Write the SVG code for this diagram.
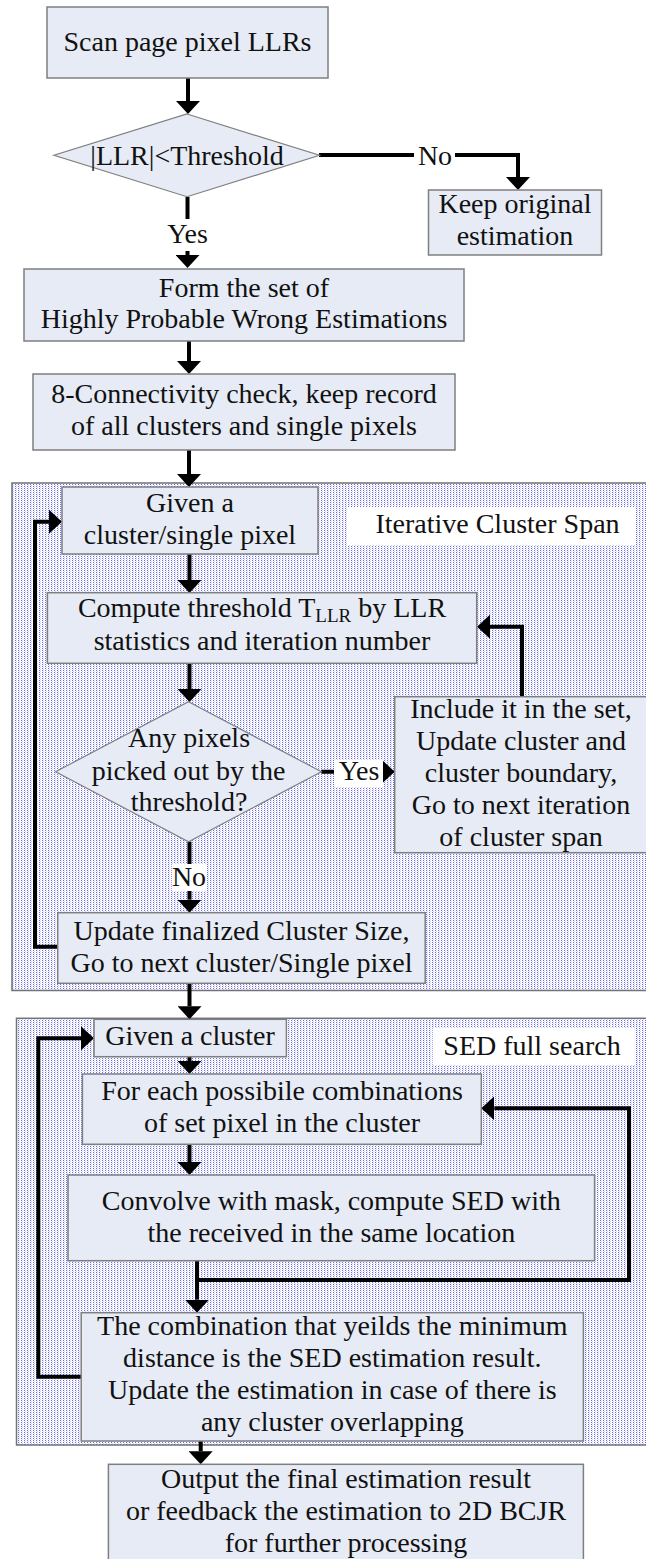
<svg xmlns="http://www.w3.org/2000/svg" width="646" height="1559" viewBox="0 0 646 1559">
  <defs>
    <style>
      .box { fill: #e6ebf5; stroke: #7f7f7f; stroke-width: 1.5; }
      .dia { fill: #e6ebf5; stroke: #7f7f7f; stroke-width: 1.2; }
      .region { fill: url(#dots); stroke: #737373; stroke-width: 1.5; }
      .tag { fill: #ffffff; stroke: none; }
      text { font-family: "Liberation Serif", "Times New Roman", serif; font-size: 28px; fill: #111111; text-anchor: middle; }
      .link { fill: none; stroke: #000000; stroke-width: 4; stroke-linejoin: miter; }
      .arrow { marker-end: url(#head); }
    </style>
    <pattern id="dots" width="3" height="2" patternUnits="userSpaceOnUse">
      <rect width="3" height="2" fill="#ffffff"/>
      <rect x="0" y="0" width="1" height="1" fill="#6a6aef"/>
      <rect x="1" y="1" width="1" height="1" fill="#d0d0f8"/>
    </pattern>
    <marker id="head" viewBox="0 -12 13 24" markerWidth="13" markerHeight="24" refX="0" refY="0" markerUnits="userSpaceOnUse" orient="auto">
      <path d="M0,-12 L13,0 L0,12 Z" fill="#000000"/>
    </marker>
  </defs>

  <rect width="646" height="1559" fill="#ffffff"/>

  <!-- shaded stages -->
  <g id="stage-span">
    <rect class="region" x="12" y="483" width="660" height="507.5"/>
    <rect class="tag" x="348" y="507" width="287" height="38"/>
    <text x="497.5" y="533">Iterative Cluster Span</text>
  </g>
  <g id="stage-sed">
    <rect class="region" x="16.5" y="1018.3" width="660" height="426.7"/>
    <rect class="tag" x="432.6" y="1028" width="202" height="37"/>
    <text x="532" y="1055">SED full search</text>
  </g>

  <!-- connectors -->
  <g id="connectors">
    <path class="link arrow" d="M188,78 V101"/>
    <path class="link arrow" d="M319,155 H518 V177"/>
    <path class="link arrow" d="M187.5,197 V255"/>
    <path class="link arrow" d="M189,341 V361"/>
    <path class="link arrow" d="M189,450 V474"/>
    <path class="link arrow" d="M189.5,554 V580"/>
    <path class="link arrow" d="M189.5,663 V689"/>
    <path class="link arrow" d="M321.4,771.7 H381.7"/>
    <path class="link arrow" d="M522,696.7 V626.7 H490"/>
    <path class="link arrow" d="M189.5,841.7 V899.7"/>
    <path class="link arrow" d="M57.7,946.7 H35 V521.7 H49"/>
    <path class="link arrow" d="M189.5,983.3 V1006.3"/>
    <path class="link arrow" d="M189.5,1056.7 V1061"/>
    <path class="link arrow" d="M189.5,1144.3 V1162"/>
    <path class="link arrow" d="M197,1260.7 V1280 H629 V1108.3 H494.3"/>
    <path class="link arrow" d="M197,1278 V1299.7"/>
    <path class="link arrow" d="M81.2,1376.7 H38.3 V1038.3 H81"/>
    <path class="link arrow" d="M200.7,1441 V1451.3"/>
  </g>

  <!-- connector labels -->
  <g id="labels">
    <rect class="tag" x="414" y="141" width="41" height="30"/>
    <text x="435" y="165">No</text>
    <rect class="tag" x="166" y="219" width="44" height="32"/>
    <text x="187.5" y="243">Yes</text>
    <rect class="tag" x="334" y="760" width="49" height="27"/>
    <text x="359" y="780">Yes</text>
    <rect class="tag" x="171.7" y="864" width="35" height="27"/>
    <text x="189" y="886">No</text>
  </g>

  <!-- nodes -->
  <g id="scan">
    <rect class="box" x="47" y="7" width="281" height="71"/>
    <text x="187.5" y="51">Scan page pixel LLRs</text>
  </g>
  <g id="check-threshold">
    <polygon class="dia" points="187,114 319.5,155.3 187,196.7 54,155.3"/>
    <text x="187" y="165">|LLR|&lt;Threshold</text>
  </g>
  <g id="keep-original">
    <rect class="box" x="428.5" y="190" width="173" height="65"/>
    <text x="515" y="213">Keep original</text>
    <text x="515" y="245">estimation</text>
  </g>
  <g id="form-set">
    <rect class="box" x="24" y="269" width="440" height="72"/>
    <text x="244" y="297">Form the set of</text>
    <text x="244" y="328">Highly Probable Wrong Estimations</text>
  </g>
  <g id="connectivity">
    <rect class="box" x="33" y="374" width="422" height="76"/>
    <text x="244" y="403">8-Connectivity check, keep record</text>
    <text x="244" y="435">of all clusters and single pixels</text>
  </g>
  <g id="given-cluster-pixel">
    <rect class="box" x="62" y="487" width="256" height="67"/>
    <text x="190" y="512">Given a</text>
    <text x="190" y="544">cluster/single pixel</text>
  </g>
  <g id="compute-threshold">
    <rect class="box" x="47.4" y="592.7" width="429.3" height="70.6"/>
    <text x="262" y="617">Compute threshold T<tspan font-size="19" dy="5">LLR</tspan><tspan dy="-5"> by LLR</tspan></text>
    <text x="262" y="650">statistics and iteration number</text>
  </g>
  <g id="any-pixels">
    <polygon class="dia" points="188.5,701.7 321.4,771.7 188.5,841.7 55.6,771.7"/>
    <text x="189" y="747">Any pixels</text>
    <text x="188.5" y="780">picked out by the</text>
    <text x="189" y="811">threshold?</text>
  </g>
  <g id="include-set">
    <rect class="box" x="394.7" y="696.7" width="270" height="156"/>
    <text x="521" y="718">Include it in the set,</text>
    <text x="521" y="750">Update cluster and</text>
    <text x="521" y="782">cluster boundary,</text>
    <text x="521" y="814">Go to next iteration</text>
    <text x="521" y="846">of cluster span</text>
  </g>
  <g id="update-size">
    <rect class="box" x="57.7" y="912.7" width="367.5" height="70.6"/>
    <text x="241.5" y="940">Update finalized Cluster Size,</text>
    <text x="241.5" y="972">Go to next cluster/Single pixel</text>
  </g>
  <g id="given-cluster">
    <rect class="box" x="94" y="1019.3" width="192.4" height="37.4"/>
    <text x="190" y="1045">Given a cluster</text>
  </g>
  <g id="each-combination">
    <rect class="box" x="82.4" y="1074" width="398.9" height="70.3"/>
    <text x="282" y="1100">For each possibile combinations</text>
    <text x="282" y="1132">of set pixel in the cluster</text>
  </g>
  <g id="convolve">
    <rect class="box" x="68" y="1175" width="526.6" height="85.7"/>
    <text x="331.3" y="1210">Convolve with mask, compute SED with</text>
    <text x="331.3" y="1242">the received in the same location</text>
  </g>
  <g id="minimum-distance">
    <rect class="box" x="81.2" y="1312.7" width="502.2" height="128.3"/>
    <text x="332.3" y="1335">The combination that yeilds the minimum</text>
    <text x="332.3" y="1367">distance is the SED estimation result.</text>
    <text x="332.3" y="1399">Update the estimation in case of there is</text>
    <text x="332.3" y="1431">any cluster overlapping</text>
  </g>
  <g id="output">
    <rect class="box" x="108.4" y="1464.3" width="475" height="140"/>
    <text x="346" y="1488">Output the final estimation result</text>
    <text x="346" y="1520">or feedback the estimation to 2D BCJR</text>
    <text x="346" y="1552">for further processing</text>
  </g>
</svg>
